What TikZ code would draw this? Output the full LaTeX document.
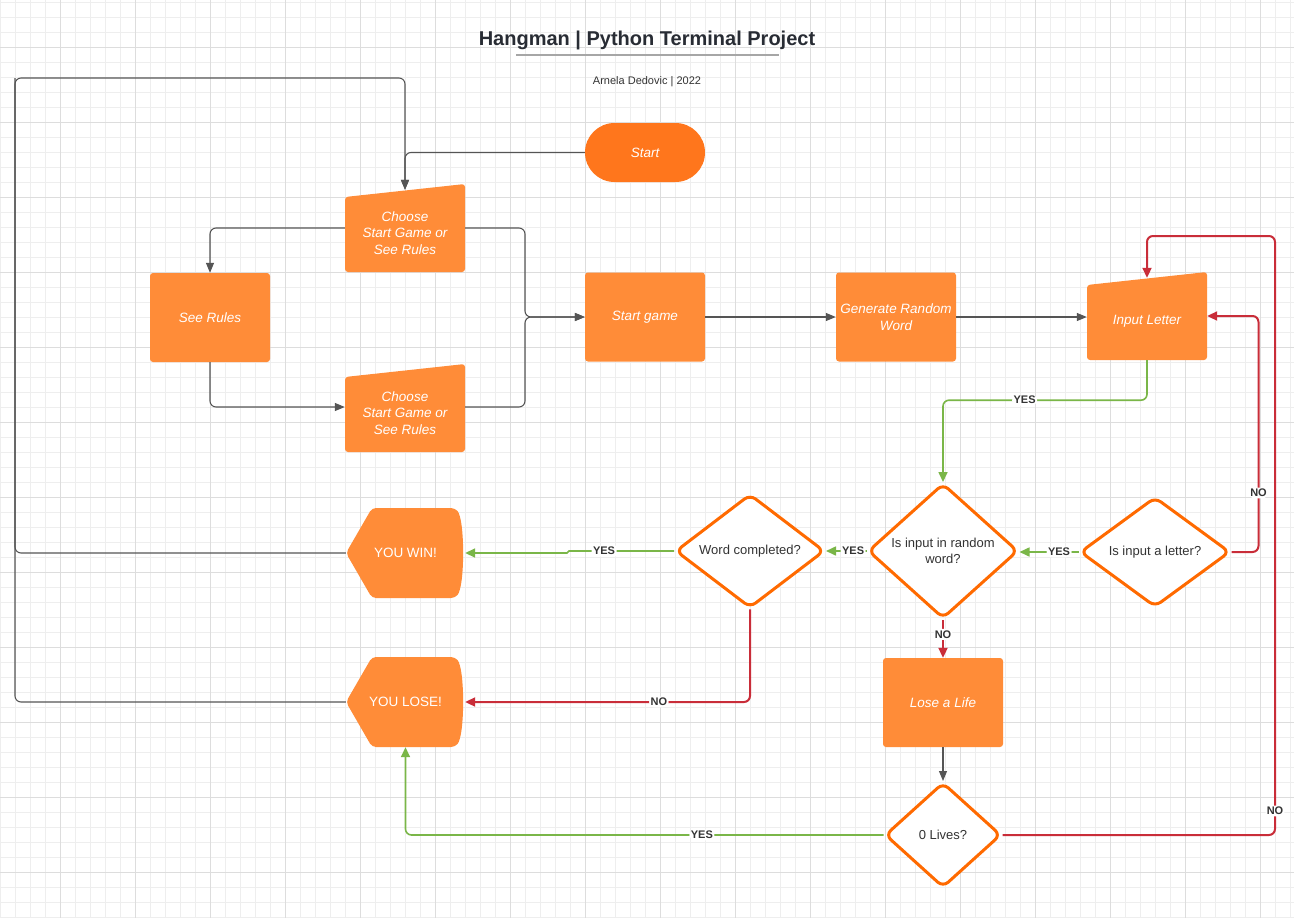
\documentclass[tikz,border=0pt]{standalone}
\usepackage{fontspec}
\setmainfont{Liberation Sans}
\usetikzlibrary{arrows.meta,shapes.geometric}
\definecolor{boxorange}{HTML}{FF8C38}
\definecolor{startorange}{HTML}{FF761C}
\definecolor{edgeorange}{HTML}{FF6A00}
\definecolor{yesgreen}{HTML}{7AB648}
\definecolor{nored}{HTML}{C92D39}
\definecolor{linegray}{HTML}{555555}
\definecolor{textgray}{HTML}{333333}
\definecolor{titlegray}{HTML}{282C34}
\definecolor{gridminor}{HTML}{EEEEEE}
\definecolor{gridmajor}{HTML}{DDDDDD}
\begin{document}
\begin{tikzpicture}[x=1pt,y=-1pt,
  box/.style={rectangle, fill=boxorange, rounded corners=3, minimum width=120, minimum height=89, inner sep=0,
    align=center, text=white, font=\fontsize{13.5}{16.5}\selectfont\itshape},
  manual/.style={rectangle, minimum width=120, minimum height=98, inner sep=0,
    align=center, text=white, font=\fontsize{13.5}{16.5}\selectfont\itshape,
    path picture={\fill[boxorange,rounded corners=3] ([yshift=-13pt]path picture bounding box.north west)
      -- (path picture bounding box.north east) -- ([yshift=10pt]path picture bounding box.south east)
      -- ([yshift=10pt]path picture bounding box.south west) -- cycle;}},
  display/.style={rectangle, minimum width=119, minimum height=90, inner sep=0,
    align=center, text=white, font=\fontsize{13.5}{16.5}\selectfont,
    path picture={\fill[boxorange,rounded corners=4] (path picture bounding box.west)
      -- ([xshift=26pt]path picture bounding box.north west) -- ([xshift=-10pt]path picture bounding box.north east)
      .. controls ([yshift=-12pt]path picture bounding box.north east) and ([yshift=12pt]path picture bounding box.south east)
      .. ([xshift=-10pt]path picture bounding box.south east) -- ([xshift=26pt]path picture bounding box.south west) -- cycle;}},
  decision/.style={diamond, draw=edgeorange, line width=3, fill=white, rounded corners=7, inner sep=0,
    align=center, text=textgray, font=\fontsize{13}{15.5}\selectfont},
  grayline/.style={draw=linegray, line width=1.1, rounded corners=6, -{Triangle[length=10pt,width=8pt]}},
  yesline/.style={draw=yesgreen, line width=1.6, rounded corners=6, -{Triangle[length=10pt,width=9pt]}},
  noline/.style={draw=nored, line width=2, rounded corners=6, -{Triangle[length=10pt,width=9pt]}},
  lbl/.style={fill=white, inner sep=1.5pt, text=textgray, font=\fontsize{11}{13}\selectfont\bfseries}]

\useasboundingbox[fill=white] (0,0) rectangle (1294,918);
\foreach \x in {0,15,...,1290} \draw[gridminor, line width=1] (\x,0) -- (\x,918);
\foreach \y in {2,17,...,917} \draw[gridminor, line width=1] (0,\y) -- (1294,\y);
\foreach \x in {60,135,...,1260} \draw[gridmajor, line width=1] (\x,0) -- (\x,918);
\foreach \y in {47,122,...,872} \draw[gridmajor, line width=1] (0,\y) -- (1294,\y);

\node[text=titlegray, font=\fontsize{20}{24}\selectfont\bfseries] (title) at (647,40) {Hangman | Python Terminal Project};
\draw[draw=gray!70, line width=1.5] (516,55) -- (779,55);
\node[text=textgray, font=\fontsize{11}{13}\selectfont] (author) at (647,82) {Arnela Dedovic | 2022};

\node[box, fill=startorange, rounded corners=29.5, minimum height=59] (start) at (645,152.5) {Start};
\node[manual] (choose1) at (405,233) {Choose\\Start Game or\\See Rules};
\node[box] (rules) at (210,317.5) {See Rules};
\node[manual] (choose2) at (405,413) {Choose\\Start Game or\\See Rules};
\node[box] (game) at (645,317) {Start game};
\node[box] (gen) at (896,317) {Generate Random\\Word};
\node[manual] (input) at (1147,321) {Input Letter};
\node[display] (win) at (405.5,553) {YOU WIN!};
\node[display] (lose) at (405.5,702) {YOU LOSE!};
\node[decision, minimum width=150, minimum height=135] (rand) at (943,551) {Is input in random\\word?};
\node[decision, minimum width=150, minimum height=110] (letter) at (1155,552) {Is input a letter?};
\node[decision, minimum width=149, minimum height=110] (word) at (750,551) {Word completed?};
\node[box] (life) at (943,702.5) {Lose a Life};
\node[decision, minimum width=116, minimum height=105] (zero) at (943,835) {0 Lives?};

\coordinate (merge) at (525,317);
\coordinate (leftrail) at (15,78);
\coordinate (redtop) at (1275,236);

\draw[grayline] (start.west) -| ([yshift=-6pt]choose1.north);
\draw[grayline] (win.west) -| (leftrail) -| ([yshift=-6pt]choose1.north);
\draw[grayline, -] (lose.west) -| (leftrail);
\draw[grayline] ([yshift=5pt]choose1.west) -| (rules.north);
\draw[grayline] (rules.south) |- ([yshift=6pt]choose2.west);
\draw[grayline] ([yshift=5pt]choose1.east) -| (merge) -- (game.west);
\draw[grayline] ([yshift=6pt]choose2.east) -| (merge) -- (game.west);
\draw[grayline] (game.east) -- (gen.west);
\draw[grayline] (gen.east) -- (gen.east -| input.west);
\draw[grayline] (life.south) -- (zero.north);

\draw[yesline] ([yshift=10pt]input.south) -- ++(0,40) -| node[lbl, pos=0.3] {YES} (rand.north);
\draw[yesline] (letter.west) -- node[lbl, pos=0.33] {YES} (letter.west -| rand.east);
\draw[yesline] (rand.west) -- node[lbl, pos=0.33] {YES} (word.east);
\draw[yesline, rounded corners=1] (word.west) -- node[lbl, pos=0.66] {YES} ++(-106,0) |- (win.east);
\draw[yesline] (zero.west) -| node[lbl, pos=0.19] {YES} (lose.south);

\draw[noline] (rand.south) -- node[lbl, pos=0.38] {NO} (life.north);
\draw[noline] (word.south) |- node[lbl, pos=0.66] {NO} (lose.east);
\draw[noline] (letter.east) -- ++(27,0) |- node[lbl, pos=0.125] {NO} ([yshift=5pt]input.east);
\draw[noline] (zero.east) -| node[lbl, pos=0.52] {NO} (redtop) -| ([yshift=-6pt]input.north);
\end{tikzpicture}
\end{document}
